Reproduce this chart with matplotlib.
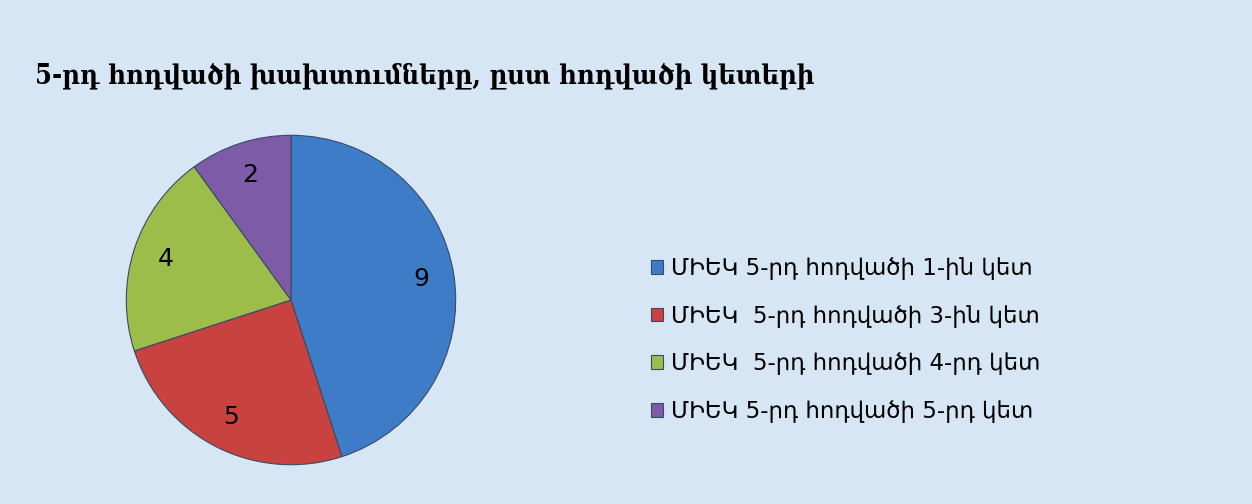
import numpy as np
import matplotlib.pyplot as plt

# Տվյալներ
arjeqner = [9, 5, 4, 2]
anunner = ['ՄԻԵԿ 5-րդ հոդվածի 1-ին կետ',
           'ՄԻԵԿ  5-րդ հոդվածի 3-ին կետ',
           'ՄԻԵԿ  5-րդ հոդվածի 4-րդ կետ',
           'ՄԻԵԿ 5-րդ հոդվածի 5-րդ կետ']
guyner = ['#3f7cc8', '#c8423f', '#9cbd4a', '#7d5ba6']
vernagir = '5-րդ հոդվածի խախտումները, ըստ հոդվածի կետերի'

W, H = 1252, 504
fig = plt.figure(figsize=(W / 100, H / 100), dpi=100, facecolor='#d6e6f5')

# pie: center (291, 300), radius 168 px
cx, cy, r = 291, 300, 168
ax = fig.add_axes([(cx - r) / W, (H - cy - r) / H, 2 * r / W, 2 * r / H])
total = sum(arjeqner)
wedges, texts, autotexts = ax.pie(
    arjeqner, colors=guyner, startangle=90, counterclock=False,
    radius=1, pctdistance=0.8,
    autopct=lambda p: f'{round(p * total / 100):d}',
    wedgeprops=dict(edgecolor='#3a4a66', linewidth=0.8),
    textprops=dict(fontsize=18, color='black', family='DejaVu Sans'))
ax.set_xlim(-1.02, 1.02)
ax.set_ylim(-1.02, 1.02)
ax.set_aspect('equal')
ax.axis('off')

fig.text(35 / W, 1 - 76 / H, vernagir, fontsize=19.5, fontweight='bold',
         family='DejaVu Serif', fontstretch='condensed',
         va='center', ha='left', color='black')

fig.legend(wedges, anunner, loc='center left',
           bbox_to_anchor=(630 / W, 1 - 340 / H), frameon=False,
           handlelength=0.55, handleheight=0.55,
           handletextpad=0.35, labelspacing=1.08,
           prop=dict(family='DejaVu Sans', size=16.5))

fig.savefig('out.png', dpi=100, facecolor=fig.get_facecolor())
